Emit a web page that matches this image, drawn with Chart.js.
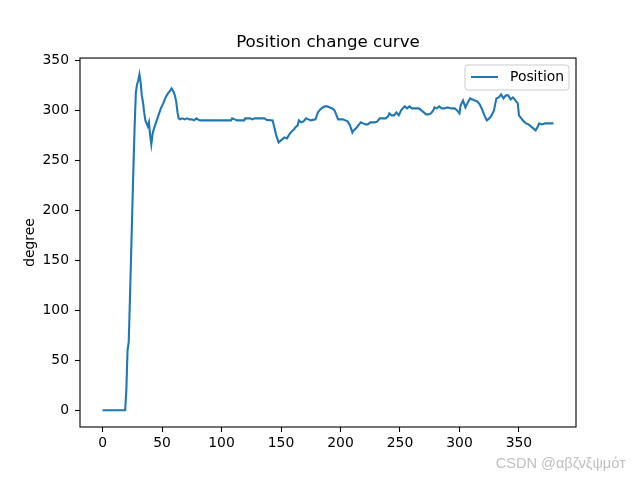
<!DOCTYPE html>
<html>
<head>
<meta charset="utf-8">
<script src="https://cdn.jsdelivr.net/npm/chart.js@4/dist/chart.umd.min.js"></script>
<style>
  html, body { margin: 0; padding: 0; background: #fff; }
  #wrap { width: 640px; height: 480px; }
</style>
</head>
<body>
<div id="wrap"><canvas id="posChart" width="640" height="480"></canvas></div>
<script>
// sample index along the x axis
const samples = [
  0, 19, 20, 21, 22, 23, 24, 25, 26, 27, 28, 29, 30, 31, 32, 33, 34, 35, 36, 37,
  38, 39, 40, 41, 42, 43, 45, 47, 49, 51, 53, 55, 57, 58, 59, 60, 61, 62, 63, 64,
  65, 67, 69, 71, 73, 75, 77, 79, 80, 82, 108, 109, 111, 113, 119, 120, 124, 126, 128, 136,
  138, 143, 144, 146, 148, 150, 152, 153, 155, 157, 159, 161, 162, 164, 165, 167, 169, 171, 173, 175,
  179, 181, 183, 185, 187, 189, 191, 193, 195, 196, 198, 200, 202, 204, 206, 208, 210, 211, 213, 215,
  217, 219, 221, 223, 225, 227, 229, 231, 233, 235, 238, 240, 241, 243, 245, 247, 249, 251, 253, 254,
  256, 258, 260, 263, 266, 268, 270, 272, 274, 276, 278, 279, 281, 283, 285, 287, 290, 293, 296, 298,
  300, 301, 303, 305, 307, 309, 311, 313, 315, 317, 319, 321, 323, 325, 327, 329, 331, 333, 335, 337,
  339, 341, 343, 345, 347, 349, 350, 352, 354, 356, 358, 360, 362, 364, 366, 367, 369, 372, 375, 379
];

// position in degrees
const position = [
  0, 0, 20, 60, 68, 110, 155, 200, 245, 285, 318, 326, 330, 336, 328, 315, 308, 298, 290, 287,
  284, 288, 275, 266, 276, 281, 288, 295, 302, 307, 313, 317, 320, 322, 320, 318, 314, 308, 298, 292,
  291, 292, 291, 292, 291, 291, 290, 292, 291, 290, 290, 292, 291, 290, 290, 292, 292, 291, 292, 292,
  290.5, 290, 285, 275, 268, 270, 272, 273, 272, 276, 279, 281, 283, 285, 290, 288, 289, 292, 291, 290,
  291, 298, 301, 303, 304, 304, 303, 302, 300, 297, 291, 291, 291, 290, 289, 285, 278, 280, 282, 285,
  288, 287, 286, 286, 288, 288, 288, 289, 292, 292, 292, 294, 297, 295, 295, 298, 295, 300, 303, 304,
  302, 304, 302, 302, 302, 300, 298, 296, 296, 297, 300, 303, 302, 304, 302, 302, 303, 302, 302, 300,
  297, 305, 310, 303, 308, 312, 311, 310, 309, 306, 301, 295, 290, 292, 295, 300, 312, 313, 316, 312,
  315, 315, 311, 313, 310, 307, 295, 292, 289, 287, 286, 284, 282, 280, 284, 287, 286, 287, 287, 287
];

const xTicks = [0, 50, 100, 150, 200, 250, 300, 350];
const yTicks = [0, 50, 100, 150, 200, 250, 300, 350];

const FONT = "'DejaVu Sans', sans-serif";

// axes box, legend and watermark in matplotlib style
const frameAndLegend = {
  id: "frameAndLegend",
  afterDraw(chart) {
    const { ctx, chartArea } = chart;
    ctx.save();
    ctx.strokeStyle = "#000";
    ctx.lineWidth = 1.1;
    ctx.strokeRect(chartArea.left, chartArea.top,
      chartArea.right - chartArea.left, chartArea.bottom - chartArea.top);

    // legend
    const bx = 465, by = 65, bw = 104, bh = 25;
    ctx.beginPath();
    ctx.roundRect(bx, by, bw, bh, 3);
    ctx.fillStyle = "rgba(255,255,255,0.8)";
    ctx.fill();
    ctx.strokeStyle = "#cccccc";
    ctx.lineWidth = 1;
    ctx.stroke();

    ctx.beginPath();
    ctx.moveTo(471, 77);
    ctx.lineTo(498, 77);
    ctx.strokeStyle = "#1f77b4";
    ctx.lineWidth = 2.1;
    ctx.stroke();

    ctx.fillStyle = "#000";
    ctx.font = "13.9px " + FONT;
    ctx.textBaseline = "middle";
    ctx.textAlign = "left";
    ctx.fillText(chart.data.datasets[0].label, 510, 77);

    // watermark
    ctx.font = "14.6px 'Liberation Sans', Arial, sans-serif";
    ctx.fillStyle = "rgba(170,170,170,0.75)";
    ctx.textAlign = "right";
    ctx.fillText("CSDN @αβζνξψμόт", 626, 464);
    ctx.restore();
  },
};

const ctx = document.getElementById("posChart");

new Chart(ctx, {
  type: "line",
  data: {
    datasets: [
      {
        label: "Position",
        data: samples.map((s, i) => ({ x: s, y: position[i] })),
        borderColor: "#1f77b4",
        borderWidth: 2.1,
        pointRadius: 0,
        tension: 0,
        fill: false,
      },
    ],
  },
  options: {
    responsive: false,
    animation: false,
    layout: { padding: { left: 16, right: 0, top: 0, bottom: 0 } },
    plugins: {
      legend: { display: false },
      tooltip: { enabled: false },
      title: {
        display: true,
        text: "Position change curve",
        color: "#000",
        font: { family: FONT, size: 16.7, weight: "normal" },
        padding: { top: 33, bottom: 5 },
      },
    },
    scales: {
      x: {
        type: "linear",
        min: -18.95,
        max: 397.95,
        afterFit: (scale) => { scale.height = 53; },
        afterBuildTicks: (scale) => { scale.ticks = xTicks.map((v) => ({ value: v })); },
        grid: { drawOnChartArea: false, drawTicks: true, tickLength: 5, tickColor: "#000", tickWidth: 1.1 },
        border: { display: false },
        ticks: { color: "#000", padding: 3, maxRotation: 0, font: { family: FONT, size: 13.9 } },
      },
      y: {
        min: -16.8,
        max: 352.4,
        afterFit: (scale) => { scale.width = 64; },
        afterBuildTicks: (scale) => { scale.ticks = yTicks.map((v) => ({ value: v })); },
        grid: { drawOnChartArea: false, drawTicks: true, tickLength: 5, tickColor: "#000", tickWidth: 1.1 },
        border: { display: false },
        ticks: { color: "#000", padding: 6, font: { family: FONT, size: 13.9 } },
        title: {
          display: true,
          text: "degree",
          color: "#000",
          font: { family: FONT, size: 13.9 },
          padding: { top: 6, bottom: 0 },
        },
      },
      // empty right-hand axis, only reserves the space right of the plot
      yRight: {
        position: "right",
        min: -16.8,
        max: 352.4,
        afterFit: (scale) => { scale.width = 64; },
        grid: { display: false },
        border: { display: false },
        ticks: { display: false },
      },
    },
  },
  plugins: [frameAndLegend],
});
</script>
</body>
</html>
